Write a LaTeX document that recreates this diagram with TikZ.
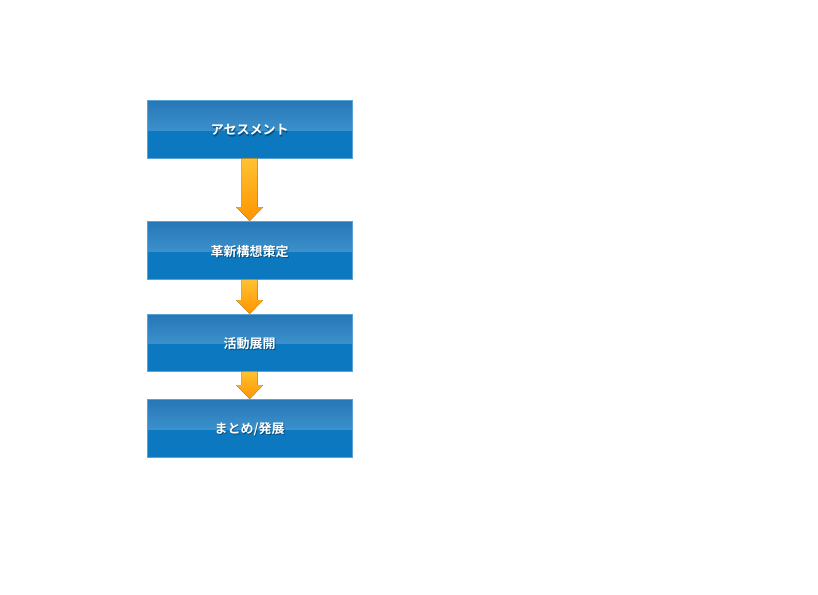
\documentclass[tikz,border=0pt]{standalone}
\usepackage{fontspec}
\newfontfamily\jpfont{Noto Sans CJK JP}[BoldFont={* Bold}]
\usetikzlibrary{calc}
\definecolor{boxtop}{HTML}{2676B6}
\definecolor{boxmid}{HTML}{3B91CB}
\definecolor{boxbot}{HTML}{0B78C0}
\definecolor{boxedge}{HTML}{5AA3D6}
\definecolor{arrtop}{HTML}{FFC232}
\definecolor{arrbot}{HTML}{FF9400}
\tikzset{
  stepbox/.style={minimum width=205pt, minimum height=58pt, inner sep=0pt},
  boxtext/.style={text=white, font=\jpfont\bfseries\fontsize{13pt}{15pt}\selectfont},
  shadowtext/.style={text=black, opacity=0.35, font=\jpfont\bfseries\fontsize{13pt}{15pt}\selectfont},
  flowarrow/.style={top color=arrtop, bottom color=arrbot, draw=none},
}
\begin{document}
\begin{tikzpicture}[x=1pt,y=-1pt]
\useasboundingbox (0,0) rectangle (818,594);
\fill[white] (0,0) rectangle (818,594);
% boxes
\node[stepbox, anchor=north west, minimum height=58pt] (a) at (147,100) {};
\node[stepbox, anchor=north west, minimum height=58pt] (b) at (147,221) {};
\node[stepbox, anchor=north west, minimum height=57pt] (c) at (147,314) {};
\node[stepbox, anchor=north west, minimum height=58pt] (d) at (147,399) {};
\foreach \n in {a,b,c,d}{
  \fill[boxbot] (\n.north west) rectangle (\n.south east);
  \shade[top color=boxtop, bottom color=boxmid] (\n.north west) rectangle ($(\n.east)+(0,1)$);
  \draw[boxedge, line width=0.6pt] (\n.north west) rectangle (\n.south east);
}
% labels
\foreach \n/\t in {a/{アセスメント}, b/{革新構想策定}, c/{活動展開}, d/{まとめ/発展}}{
  \node[shadowtext] at ($(\n.center)+(0.8,2.3)$) {\t};
  \node[boxtext] (\n t) at ($(\n.center)+(0,1)$) {\t};
}
% arrows
\foreach \u/\v in {a/b, b/c, c/d}{
  \fill[flowarrow]
    ($(\u.south)+(-8,0)$) -- ($(\u.south)+(8,0)$) -- ($(\v.north)+(8,-14)$)
    -- ($(\v.north)+(13.5,-14)$) -- (\v.north) -- ($(\v.north)+(-13.5,-14)$)
    -- ($(\v.north)+(-8,-14)$) -- cycle;
}
\end{tikzpicture}
\end{document}
